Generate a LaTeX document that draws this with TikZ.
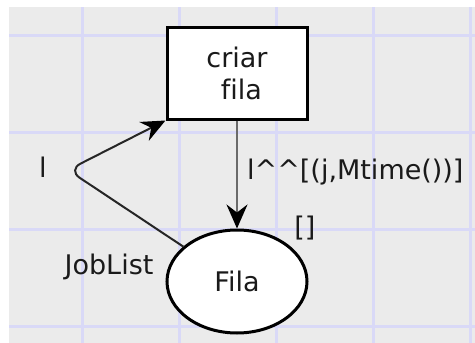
\documentclass[tikz,border=0pt]{standalone}
\usepackage{fontspec}
\setmainfont{DejaVu Sans}[Ligatures=NoCommon]
\usetikzlibrary{arrows.meta,shapes.geometric}
\definecolor{bgc}{HTML}{EBEBEB}
\definecolor{gridc}{HTML}{D9D9F7}
\definecolor{txt}{HTML}{1A1A1A}
\definecolor{arcgray}{HTML}{6A6A6A}
\definecolor{arcdark}{HTML}{262626}
\tikzset{
  trans/.style={draw=black,line width=3pt,fill=white,minimum width=140pt,minimum height=92pt,inner sep=0pt,align=center,text=txt,font=\fontsize{27}{32}\selectfont},
  place/.style={ellipse,draw=black,line width=3pt,fill=white,minimum width=140pt,minimum height=103pt,inner sep=0pt,text=txt,font=\fontsize{27}{32}\selectfont},
  lbl/.style={text=txt,inner sep=0pt,font=\fontsize{27}{32}\selectfont},
  tip/.style={-{Stealth[length=24pt,width=21pt,inset=8pt,color=black]}},
  arcg/.style={draw=arcgray,line width=2pt,tip},
  arcd/.style={draw=arcdark,line width=2pt,rounded corners=14pt,tip},
  gridline/.style={draw=gridc,line width=3pt}
}
\begin{document}
\begin{tikzpicture}[x=1pt,y=-1pt]
\useasboundingbox (0,0) rectangle (475,343);
\fill[white] (0,0) rectangle (475,343);
\fill[bgc] (9,7) rectangle (475,343);
\foreach \gx in {82.7,179.7,276.7,373.7,470.7} {\draw[gridline] (\gx,7) -- (\gx,343);}
\foreach \gy in {35.7,132.7,229.7,326.7} {\draw[gridline] (9,\gy) -- (475,\gy);}
\node[trans] (t) at (237,73) {criar\\\ fila};
\node[place] (p) at (237,281.5) {Fila};
\draw[arcg] (t.south) -- (p.north);
\coordinate (c) at (68,170);
\draw[arcd] (p.147) -- (c) -- (t.south west);
\node[lbl] (l1) at (43,167) {l};
\node[lbl] (jl) at (109,267) {JobList};
\node[lbl,anchor=west] (ex) at (247,172) {l\textasciicircum\textasciicircum[(j,Mtime())]};
\node[lbl] (init) at (305,228) {[]};
\end{tikzpicture}
\end{document}
